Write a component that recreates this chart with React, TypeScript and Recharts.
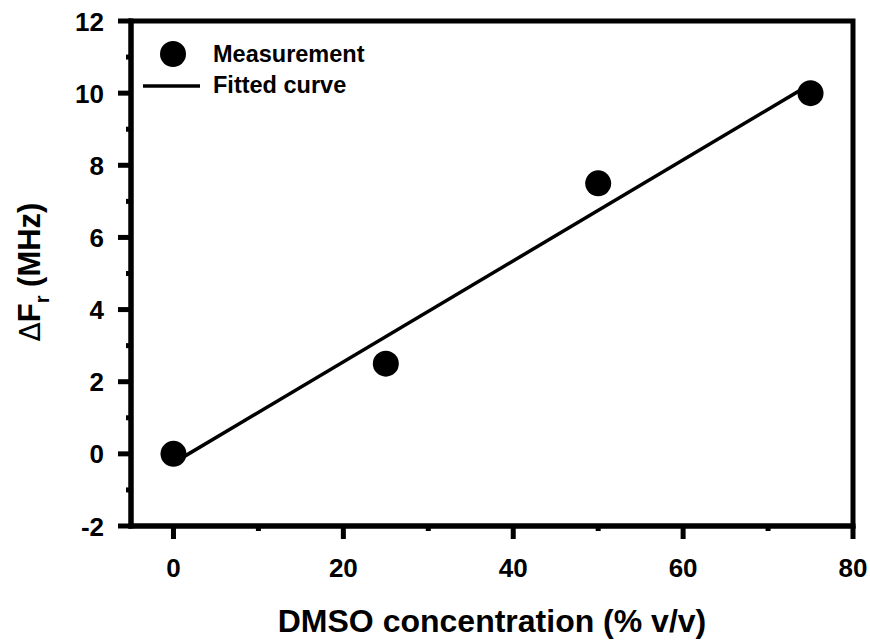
import React from 'react';
import { ComposedChart, XAxis, YAxis, Scatter, Line, Legend, ReferenceArea } from 'recharts';

// DMSO concentration (% v/v) vs resonance shift
const concentration = [0, 25, 50, 75];
const deltaF = [0, 2.5, 7.5, 10];

// fitted straight line, end points
const fitConcentration = [0, 75];
const fitDeltaF = [-0.25, 10.25];

const xDomain = [-5, 80];
const yDomain = [-2, 12];
const xMajorTicks = [0, 20, 40, 60, 80];
const xMinorTicks = [10, 30, 50, 70];
const yMajorTicks = [-2, 0, 2, 4, 6, 8, 10, 12];
const yMinorTicks = [-1, 1, 3, 5, 7, 9, 11];

const measured = concentration.map((x, i) => ({ x, y: deltaF[i] }));
const fitted = fitConcentration.map((x, i) => ({ x, y: fitDeltaF[i] }));

const xTicks = [...xMajorTicks, ...xMinorTicks].sort((a, b) => a - b);
const yTicks = [...yMajorTicks, ...yMinorTicks].sort((a, b) => a - b);

const FONT = 'Arial, "Liberation Sans", sans-serif';
const MAJOR = 13;
const MINOR = 5;
const AXIS_W = 5;
const TICK_W = 5;
const FIT_W = 3.5;

// tick marks drawn as filled rects so the weight matches the frame
const makeTick = (side: 'bottom' | 'top' | 'left' | 'right') => (props: any) => {
  const { x, y, payload } = props;
  const v = payload.value;
  const major = side === 'bottom' || side === 'top' ? xMajorTicks.includes(v) : yMajorTicks.includes(v);
  const len = major ? MAJOR : MINOR;
  const h = TICK_W / 2;
  let mark;
  let label = null;
  if (side === 'bottom') {
    mark = <rect x={x - h} y={y} width={TICK_W} height={len} fill="#000" />;
    if (major)
      label = (
        <text x={x} y={y + 51} textAnchor="middle" fontSize={26} fontWeight="bold" fontFamily={FONT} fill="#000">
          {v}
        </text>
      );
  } else if (side === 'top') {
    mark = <rect x={x - h} y={y} width={TICK_W} height={len} fill="#000" />;
  } else if (side === 'left') {
    mark = <rect x={x - len} y={y - h} width={len} height={TICK_W} fill="#000" />;
    if (major)
      label = (
        <text x={x - 27} y={y + 9.5} textAnchor="end" fontSize={26} fontWeight="bold" fontFamily={FONT} fill="#000">
          {v}
        </text>
      );
  } else {
    mark = <rect x={x - len} y={y - h} width={len} height={TICK_W} fill="#000" />;
  }
  return (
    <g>
      {mark}
      {label}
    </g>
  );
};

const LegendBox = () => (
  <svg width={260} height={70} style={{ display: 'block', overflow: 'visible' }}>
    <circle cx={30} cy={16} r={13} fill="#000" />
    <text x={70} y={24} fontSize={23.5} fontWeight="bold" fontFamily={FONT} fill="#000">
      Measurement
    </text>
    <line x1={0} x2={57} y1={48} y2={48} stroke="#000" strokeWidth={FIT_W} />
    <text x={70} y={55} fontSize={23.5} fontWeight="bold" fontFamily={FONT} fill="#000">
      Fitted curve
    </text>
  </svg>
);

const axisLine = { stroke: '#000', strokeWidth: AXIS_W, strokeLinecap: 'square' as const };

export default function App() {
  return (
    <div style={{ position: 'absolute', left: 0, top: 0, width: 870, height: 640, background: '#fff' }}>
      <ComposedChart width={870} height={640} margin={{ top: 21, right: 17, bottom: 0, left: 0 }}>
        <XAxis
          xAxisId="b"
          dataKey="x"
          type="number"
          domain={xDomain}
          ticks={xTicks}
          interval={0}
          allowDataOverflow
          height={114}
          tickSize={0}
          tickMargin={0}
          tickLine={false}
          axisLine={axisLine}
          tick={makeTick('bottom')}
          label={{
            content: () => (
              <text x={492} y={632} textAnchor="middle" fontSize={32} fontWeight="bold" fontFamily={FONT} fill="#000">
                DMSO concentration (% v/v)
              </text>
            ),
          }}
        />
        <XAxis
          xAxisId="t"
          orientation="top"
          type="number"
          domain={xDomain}
          ticks={xTicks}
          interval={0}
          allowDataOverflow
          height={0}
          tickSize={0}
          tickMargin={0}
          tickLine={false}
          axisLine={axisLine}
          tick={makeTick('top')}
        />
        <YAxis
          yAxisId="l"
          dataKey="y"
          type="number"
          domain={yDomain}
          ticks={yTicks}
          interval={0}
          allowDataOverflow
          width={131}
          tickSize={0}
          tickMargin={0}
          tickLine={false}
          axisLine={axisLine}
          tick={makeTick('left')}
          label={{
            content: () => (
              <text
                transform="translate(40,272) rotate(-90)"
                textAnchor="middle"
                fontSize={31}
                fontWeight="bold"
                fontFamily={FONT}
                fill="#000"
              >
                <tspan fontWeight="normal" fontFamily='"DejaVu Sans", sans-serif' fontSize={28}>Δ</tspan>
                <tspan>F</tspan>
                <tspan fontSize={20} dy={9}>r</tspan>
                <tspan dy={-9}> (MHz)</tspan>
              </text>
            ),
          }}
        />
        <YAxis
          yAxisId="r"
          orientation="right"
          type="number"
          domain={yDomain}
          ticks={yTicks}
          interval={0}
          allowDataOverflow
          width={0}
          tickSize={0}
          tickMargin={0}
          tickLine={false}
          axisLine={axisLine}
          tick={makeTick('right')}
        />
        <ReferenceArea
          xAxisId="b"
          yAxisId="l"
          x1={xDomain[0]}
          x2={xDomain[1]}
          y1={yDomain[0]}
          y2={yDomain[1]}
          fill="none"
          stroke="#000"
          strokeWidth={AXIS_W}
          ifOverflow="visible"
        />
        <Legend
          layout="vertical"
          align="center"
          verticalAlign="middle"
          wrapperStyle={{ left: 143, top: 38, width: 260 }}
          content={() => <LegendBox />}
        />
        <Line
          xAxisId="b"
          yAxisId="l"
          data={fitted}
          dataKey="y"
          stroke="#000"
          strokeWidth={FIT_W}
          dot={false}
          activeDot={false}
          isAnimationActive={false}
          legendType="none"
        />
        <Scatter
          xAxisId="b"
          yAxisId="l"
          data={measured}
          dataKey="y"
          fill="#000"
          shape={(p: any) => <circle cx={p.cx} cy={p.cy} r={13} fill="#000" />}
          isAnimationActive={false}
          legendType="none"
        />
      </ComposedChart>
    </div>
  );
}
